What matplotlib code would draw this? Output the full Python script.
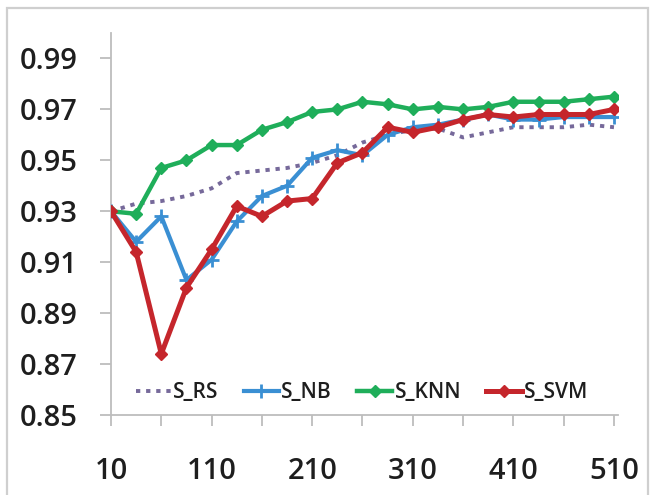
import matplotlib
matplotlib.use("Agg")
import matplotlib.pyplot as plt
from matplotlib.patches import Rectangle

# Number of selected samples
sizes = [10, 35, 60, 85, 110, 135, 160, 185, 210, 235, 260,
         285, 310, 335, 360, 385, 410, 435, 460, 485, 510]

s_rs = [0.930, 0.933, 0.934, 0.936, 0.939, 0.945, 0.946, 0.947, 0.949, 0.952, 0.957,
        0.960, 0.962, 0.9625, 0.959, 0.961, 0.963, 0.963, 0.963, 0.964, 0.963]
s_nb = [0.930, 0.918, 0.928, 0.903, 0.911, 0.926, 0.936, 0.940, 0.951, 0.954, 0.952,
        0.960, 0.963, 0.964, 0.966, 0.968, 0.966, 0.966, 0.967, 0.967, 0.967]
s_knn = [0.930, 0.929, 0.947, 0.950, 0.956, 0.956, 0.962, 0.965, 0.969, 0.970, 0.973,
         0.972, 0.970, 0.971, 0.970, 0.971, 0.973, 0.973, 0.973, 0.974, 0.975]
s_svm = [0.930, 0.914, 0.874, 0.900, 0.915, 0.932, 0.928, 0.934, 0.935, 0.949, 0.953,
         0.963, 0.961, 0.963, 0.966, 0.968, 0.967, 0.968, 0.968, 0.968, 0.970]

x_ticks = [10, 60, 110, 160, 210, 260, 310, 360, 410, 460, 510]
x_tick_labels = ["10", "", "110", "", "210", "", "310", "", "410", "", "510"]
y_ticks = [0.85, 0.87, 0.89, 0.91, 0.93, 0.95, 0.97, 0.99]
y_tick_labels = ["0.85", "0.87", "0.89", "0.91", "0.93", "0.95", "0.97", "0.99"]

plt.rcParams["font.family"] = ["Open Sans", "DejaVu Sans"]
plt.rcParams["font.weight"] = "semibold"

fig = plt.figure(figsize=(6.5, 4.95), dpi=100)
fig.patch.set_facecolor("white")
ax = fig.add_axes([111 / 650, 1 - 415 / 495, 507 / 650, 382 / 495])

# outer frame around the chart
fig.patches.append(Rectangle((7 / 650, -0.02), 641 / 650, 1.02 - 8 / 495,
                             transform=fig.transFigure, fill=False,
                             edgecolor="#cfcfcf", linewidth=1.6))

c_rs = "#76699a"
c_nb = "#3a8fd3"
c_knn = "#1fae5a"
c_svm = "#c5262c"

ax.plot(sizes, s_rs, color=c_rs, linestyle=(0, (1.1, 1.5)), linewidth=2.8,
        label="S_RS", zorder=2)
ax.plot(sizes, s_nb, color=c_nb, linewidth=3.0, marker="+", markersize=10,
        markeredgewidth=2.0, label="S_NB", zorder=3)
ax.plot(sizes, s_knn, color=c_knn, linewidth=3.2, marker="D", markersize=6.5,
        label="S_KNN", zorder=3)
ax.plot(sizes, s_svm, color=c_svm, linewidth=3.6, marker="D", markersize=6,
        label="S_SVM", zorder=4)

ax.set_xlim(10, 514)
ax.set_ylim(0.85, 1.0)
ax.set_xticks(x_ticks)
ax.set_xticklabels(x_tick_labels)
ax.set_yticks(y_ticks)
ax.set_yticklabels(y_tick_labels)

for side in ("top", "right"):
    ax.spines[side].set_visible(False)
for side in ("left", "bottom"):
    ax.spines[side].set_color("#bdbdbd")
    ax.spines[side].set_linewidth(1.3)

ax.tick_params(axis="x", direction="out", length=8, width=1.3, color="#bdbdbd",
               labelsize=21, labelcolor="#1e1e1e", pad=22)
ax.tick_params(axis="y", direction="out", length=8, width=1.3, color="#bdbdbd",
               labelsize=21, labelcolor="#1e1e1e", pad=16)

leg = ax.legend(loc="center", bbox_to_anchor=(0.495, 0.058), ncol=4,
                frameon=False, fontsize=15, handlelength=1.7,
                handletextpad=0.1, columnspacing=1.2, borderaxespad=0)
for t in leg.get_texts():
    t.set_color("#1e1e1e")

fig.savefig("out.png", dpi=100, facecolor="white")
